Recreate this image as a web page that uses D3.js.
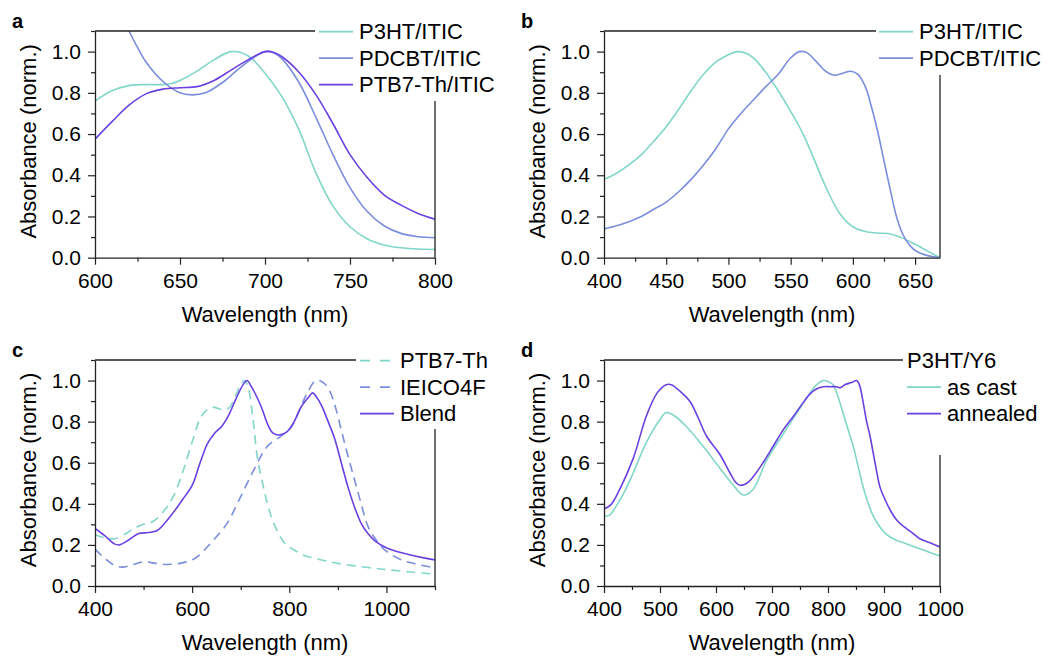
<!DOCTYPE html>
<html>
<head>
<meta charset="utf-8">
<script src="https://cdn.jsdelivr.net/npm/d3@7"></script>
<style>
  body { margin: 0; background: #fff; }
  svg { font-family: "Liberation Sans", Arial, sans-serif; }
</style>
</head>
<body>
<svg id="fig" width="1049" height="659"></svg>
<script>
// colours
var teal = '#80d6c9', blue = '#7b8ddd', purple = '#6b40e2';

// panel a : [wavelength, absorbance]
var a_p3ht = [[600,0.76],[610,0.81],[620,0.835],[630,0.84],[640,0.84],[645,0.845],[650,0.86],[660,0.905],[670,0.96],[680,1.0],[690,0.98],[700,0.895],[710,0.78],[720,0.62],[730,0.41],[740,0.25],[750,0.15],[760,0.092],[770,0.062],[780,0.048],[790,0.042],[800,0.04]];
var a_pdcbt = [[612,1.24],[620,1.10],[625,1.02],[630,0.95],[640,0.855],[650,0.80],[657,0.79],[665,0.80],[675,0.85],[685,0.92],[695,0.98],[700,1.0],[705,0.995],[710,0.965],[720,0.85],[730,0.68],[740,0.50],[750,0.34],[760,0.225],[770,0.155],[780,0.118],[790,0.102],[800,0.097]];
var a_ptb7 = [[600,0.575],[610,0.66],[620,0.74],[630,0.795],[640,0.818],[650,0.825],[660,0.83],[670,0.86],[680,0.91],[690,0.96],[700,1.0],[705,0.997],[710,0.975],[720,0.90],[730,0.79],[740,0.65],[750,0.50],[760,0.39],[770,0.305],[780,0.255],[790,0.215],[800,0.187]];

// panel b
var b_p3ht = [[400,0.38],[410,0.41],[420,0.45],[430,0.50],[440,0.565],[450,0.635],[460,0.72],[470,0.81],[480,0.89],[490,0.95],[500,0.985],[507,1.0],[515,0.99],[520,0.97],[530,0.90],[540,0.81],[550,0.71],[560,0.60],[570,0.46],[580,0.32],[590,0.21],[600,0.15],[610,0.127],[620,0.12],[630,0.115],[640,0.095],[650,0.065],[660,0.032],[670,0.0]];
var b_pdcbt = [[400,0.14],[410,0.155],[420,0.175],[430,0.20],[440,0.235],[450,0.27],[460,0.32],[470,0.38],[480,0.45],[490,0.53],[500,0.625],[510,0.70],[520,0.765],[530,0.83],[540,0.89],[550,0.97],[557,1.0],[563,0.995],[570,0.955],[578,0.905],[585,0.885],[592,0.895],[598,0.905],[604,0.89],[610,0.83],[615,0.73],[620,0.61],[625,0.47],[630,0.33],[635,0.2],[640,0.115],[645,0.065],[650,0.035],[660,0.01],[670,0.0]];

// panel c
var c_ptb7 = [[400,0.25],[420,0.235],[440,0.23],[460,0.25],[480,0.28],[500,0.30],[520,0.315],[540,0.36],[560,0.43],[580,0.55],[600,0.70],[620,0.83],[640,0.87],[660,0.86],[675,0.865],[690,0.93],[700,0.98],[708,1.0],[715,0.97],[725,0.82],[734,0.63],[745,0.50],[755,0.40],[769,0.30],[790,0.21],[810,0.175],[830,0.15],[866,0.127],[900,0.11],[962,0.09],[1000,0.08],[1050,0.068],[1100,0.058]];
var c_ieico = [[400,0.18],[420,0.135],[440,0.10],[458,0.092],[480,0.105],[500,0.118],[525,0.11],[548,0.105],[575,0.11],[600,0.127],[615,0.15],[631,0.19],[650,0.24],[672,0.305],[700,0.435],[727,0.565],[755,0.68],[783,0.73],[803,0.77],[820,0.85],[835,0.93],[855,1.0],[870,0.99],[883,0.95],[895,0.87],[907,0.76],[920,0.64],[934,0.52],[948,0.40],[962,0.29],[980,0.22],[997,0.175],[1031,0.127],[1065,0.105],[1100,0.088]];
var c_blend = [[400,0.28],[420,0.245],[440,0.205],[450,0.20],[470,0.225],[490,0.255],[510,0.26],[528,0.27],[545,0.31],[562,0.36],[580,0.42],[600,0.49],[615,0.59],[631,0.69],[645,0.74],[662,0.78],[675,0.83],[690,0.91],[705,0.98],[713,1.0],[722,0.97],[741,0.88],[755,0.79],[766,0.745],[780,0.735],[795,0.75],[810,0.80],[824,0.87],[840,0.92],[848,0.94],[856,0.92],[866,0.88],[880,0.80],[893,0.72],[907,0.60],[921,0.48],[935,0.38],[948,0.305],[962,0.255],[976,0.22],[1003,0.183],[1052,0.15],[1100,0.127]];

// panel d
var d_cast = [[400,0.34],[410,0.345],[422,0.39],[437,0.46],[452,0.55],[476,0.70],[500,0.81],[511,0.844],[525,0.83],[547,0.776],[577,0.68],[607,0.573],[631,0.49],[649,0.443],[666,0.47],[690,0.61],[720,0.74],[750,0.865],[768,0.94],[780,0.98],[792,1.0],[800,0.995],[809,0.98],[818,0.92],[827,0.84],[836,0.76],[845,0.68],[854,0.58],[863,0.48],[872,0.40],[881,0.34],[892,0.29],[905,0.25],[920,0.225],[935,0.21],[960,0.185],[980,0.165],[1000,0.146]];
var d_anneal = [[400,0.375],[412,0.395],[428,0.47],[452,0.62],[476,0.83],[495,0.94],[511,0.98],[520,0.98],[535,0.95],[553,0.90],[568,0.82],[583,0.73],[607,0.64],[625,0.55],[635,0.505],[643,0.49],[655,0.50],[666,0.53],[684,0.60],[702,0.68],[720,0.76],[738,0.825],[755,0.89],[768,0.935],[780,0.96],[792,0.97],[805,0.97],[815,0.97],[822,0.965],[830,0.98],[842,0.99],[851,1.0],[856,0.98],[863,0.89],[869,0.80],[875,0.73],[884,0.60],[893,0.48],[902,0.42],[911,0.37],[923,0.32],[935,0.29],[950,0.26],[964,0.23],[982,0.21],[1000,0.19]];

var yMajor = [0, 0.2, 0.4, 0.6, 0.8, 1.0];
var yMinor = [0.1, 0.3, 0.5, 0.7, 0.9, 1.1];

var panels = [
  {label: 'a', left: 95, top: 31, right: 435, bottom: 257.7, xDomain: [600, 800],
   xMajor: [600, 650, 700, 750, 800], xMinor: [625, 675, 725, 775],
   series: [{name: 'P3HT/ITIC', data: a_p3ht, color: teal}, {name: 'PDCBT/ITIC', data: a_pdcbt, color: blue}, {name: 'PTB7-Th/ITIC', data: a_ptb7, color: purple}],
   legX: 319, gapEnd: 315, rightStart: 101},
  {label: 'b', left: 604, top: 31, right: 940, bottom: 257.7, xDomain: [400, 670],
   xMajor: [400, 450, 500, 550, 600, 650], xMinor: [425, 475, 525, 575, 625],
   series: [{name: 'P3HT/ITIC', data: b_p3ht, color: teal}, {name: 'PDCBT/ITIC', data: b_pdcbt, color: blue}],
   legX: 879, gapEnd: 876, rightStart: 75},
  {label: 'c', left: 95, top: 360, right: 435, bottom: 586, xDomain: [400, 1100],
   xMajor: [400, 600, 800, 1000], xMinor: [500, 700, 900, 1100],
   series: [{name: 'PTB7-Th', data: c_ptb7, color: teal, dash: '9,6'}, {name: 'IEICO4F', data: c_ieico, color: blue, dash: '9,6'}, {name: 'Blend', data: c_blend, color: purple}],
   legX: 360, gapEnd: 356, rightStart: 429},
  {label: 'd', left: 604, top: 360, right: 940, bottom: 586, xDomain: [400, 1000],
   xMajor: [400, 500, 600, 700, 800, 900, 1000], xMinor: [450, 550, 650, 750, 850, 950],
   title: 'P3HT/Y6',
   series: [{name: 'as cast', data: d_cast, color: teal}, {name: 'annealed', data: d_anneal, color: purple}],
   legX: 907, gapEnd: 903, rightStart: 455}
];

var svg = d3.select('#fig');
var axisColor = '#222';

panels.forEach(function(p, idx){
  var x = d3.scaleLinear().domain(p.xDomain).range([p.left, p.right]);
  var y = d3.scaleLinear().domain([0, 1.1]).range([p.bottom, p.top]);
  var g = svg.append('g');

  var clipId = 'clip' + idx;
  g.append('clipPath').attr('id', clipId)
   .append('rect')
   .attr('x', p.left).attr('y', p.top)
   .attr('width', p.right - p.left).attr('height', p.bottom - p.top);

  // curves
  var line = d3.line()
    .x(function(d){ return x(d[0]); })
    .y(function(d){ return y(d[1]); })
    .curve(d3.curveCatmullRom.alpha(0.5));

  p.series.forEach(function(s){
    g.append('path')
     .attr('clip-path', 'url(#' + clipId + ')')
     .attr('d', line(s.data))
     .attr('fill', 'none')
     .attr('stroke', s.color)
     .attr('stroke-width', 1.6)
     .attr('stroke-dasharray', s.dash || null);
  });

  // axes
  g.append('g').attr('transform', 'translate(0,' + p.bottom + ')')
    .call(d3.axisBottom(x).tickValues(p.xMajor).tickSize(7).tickSizeOuter(0).tickPadding(8).tickFormat(d3.format('d')));
  g.append('g').attr('transform', 'translate(0,' + p.bottom + ')')
    .call(d3.axisBottom(x).tickValues(p.xMinor).tickSize(4).tickFormat(''))
    .select('.domain').remove();
  g.append('g').attr('transform', 'translate(' + p.left + ',0)')
    .call(d3.axisLeft(y).tickValues(yMajor).tickSize(7).tickSizeOuter(0).tickPadding(7).tickFormat(d3.format('.1f')));
  g.append('g').attr('transform', 'translate(' + p.left + ',0)')
    .call(d3.axisLeft(y).tickValues(yMinor).tickSize(4).tickFormat(''))
    .select('.domain').remove();

  g.selectAll('.tick line').attr('stroke', axisColor).attr('stroke-width', 1.2);
  g.selectAll('.domain').attr('stroke', axisColor).attr('stroke-width', 1.3);
  g.selectAll('.tick text').attr('font-size', 21).attr('fill', '#000')
   .attr('font-family', '"Liberation Sans", Arial, sans-serif');

  // broken frame: top and right
  g.append('line').attr('x1', p.left).attr('x2', p.gapEnd)
   .attr('y1', p.top).attr('y2', p.top)
   .attr('stroke', axisColor).attr('stroke-width', 1.3);
  g.append('line').attr('x1', p.right).attr('x2', p.right)
   .attr('y1', p.rightStart).attr('y2', p.bottom)
   .attr('stroke', axisColor).attr('stroke-width', 1.3);

  // axis titles
  g.append('text')
   .attr('x', (p.left + p.right) / 2).attr('y', p.bottom + 64)
   .attr('text-anchor', 'middle').attr('font-size', 22)
   .text('Wavelength (nm)');
  g.append('text')
   .attr('transform', 'translate(' + (p.left - 59) + ',' + (y(0.55) - 3) + ') rotate(-90)')
   .attr('text-anchor', 'middle').attr('font-size', 22)
   .text('Absorbance (norm.)');

  // panel letter
  svg.append('text')
   .attr('x', p.left - 83).attr('y', p.top - 3)
   .attr('font-size', 20).attr('font-weight', 'bold')
   .text(p.label);

  // legend
  var rowH = 26.5;
  var row0 = p.top + 0.7;
  var off = 0;
  if (p.title) {
    g.append('text').attr('x', p.legX).attr('y', row0 + 7.5)
     .attr('font-size', 22).text(p.title);
    off = 1;
  }
  p.series.forEach(function(s, i){
    var cy = row0 + (i + off) * rowH;
    var lx = p.legX;
    g.append('line').attr('x1', lx).attr('x2', lx + 34)
     .attr('y1', cy).attr('y2', cy)
     .attr('stroke', s.color).attr('stroke-width', 1.8)
     .attr('stroke-dasharray', s.dash ? '10,10' : null);
    g.append('text').attr('x', lx + 40).attr('y', cy + 7.5)
     .attr('font-size', 22).text(s.name);
  });
});
</script>
</body>
</html>
